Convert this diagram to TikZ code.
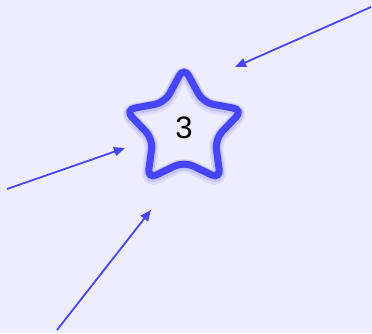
\documentclass[tikz,border=0pt]{standalone}
\usepackage{fontspec}
\setsansfont{Liberation Sans}
\usetikzlibrary{arrows.meta, shapes.geometric}
\definecolor{bgc}{HTML}{EEEDFF}
\definecolor{starc}{HTML}{4646F8}

\begin{document}
\begin{tikzpicture}[
    x=1pt, y=-1pt,
    >={Triangle[length=11pt, width=9pt]},
    pointer/.style={->, starc, line width=1.8pt},
    starbox/.style={star, star points=5, star point ratio=1.9, minimum size=124pt,
      inner sep=0pt, rounded corners=10pt, draw=starc, line width=7pt,
      preaction={draw=starc, draw opacity=0.10, line width=14pt, transform canvas={yshift=-2pt}},
      preaction={draw=starc, draw opacity=0.16, line width=10.5pt, transform canvas={yshift=-1pt}}}]

  % background and margins
  \fill[bgc] (0,0) rectangle (372,333);

  % the star
  \node[starbox] (score) at (184,129) {};
  \node[font=\sffamily\fontsize{31}{31}\selectfont] (score-text) at (184,128) {3};

  % free ends of the pointers
  \coordinate (tr-start) at (371,7);
  \coordinate (tr-end) at (235,67);
  \coordinate (l-start) at (7,189);
  \coordinate (l-end) at (125,148);
  \coordinate (bl-start) at (57,330);
  \coordinate (bl-end) at (151,210);

  \draw[pointer] (tr-start) -- (tr-end);
  \draw[pointer] (l-start) -- (l-end);
  \draw[pointer] (bl-start) -- (bl-end);
\end{tikzpicture}
\end{document}
